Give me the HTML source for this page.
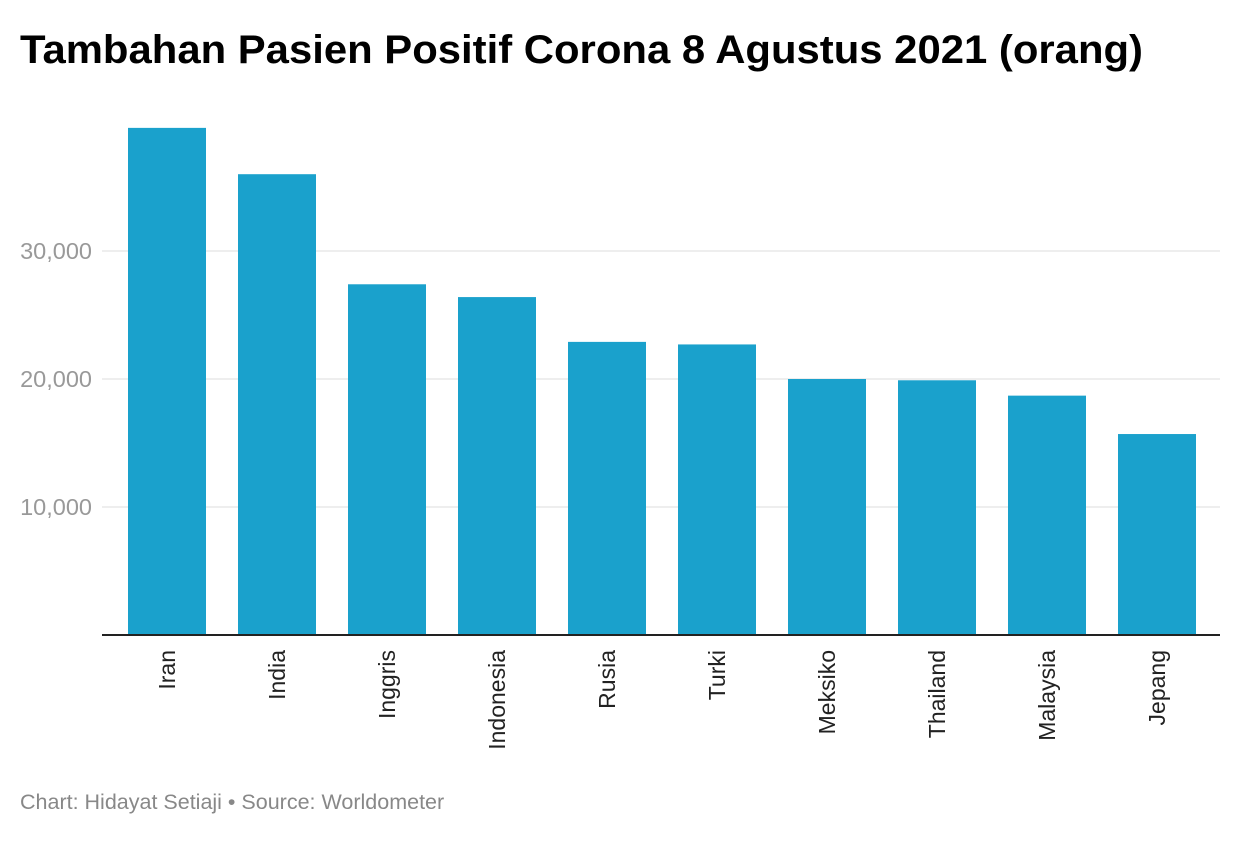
<!DOCTYPE html>
<html><head><meta charset="utf-8"><style>
body{margin:0;background:#fff;width:1240px;height:840px;overflow:hidden;font-family:"Liberation Sans",sans-serif}
</style></head><body>
<svg width="1240" height="840">
<text x="20" y="63" font-size="40" font-weight="bold" fill="#000" textLength="1123" lengthAdjust="spacingAndGlyphs">Tambahan Pasien Positif Corona 8 Agustus 2021 (orang)</text>
<g id="grid"></g><g id="bars"></g><g id="xl"></g>
<line x1="102" x2="1220" y1="635" y2="635" stroke="#222" stroke-width="2"/>
<text x="20" y="809" font-size="21.5" fill="#888">Chart: Hidayat Setiaji • Source: Worldometer</text>
</svg>
<script>
const categories=["Iran","India","Inggris","Indonesia","Rusia","Turki","Meksiko","Thailand","Malaysia","Jepang"];
const values=[39619,36000,27400,26400,22900,22700,20000,19900,18700,15700];
const ticks=[10000,20000,30000];
const tickLabels=["10,000","20,000","30,000"];
const ns="http://www.w3.org/2000/svg";
const y=v=>635-v*128/10000;
const x=i=>128+i*110;
function mk(t,a,p){const e=document.createElementNS(ns,t);for(const k in a)e.setAttribute(k,a[k]);p.appendChild(e);return e;}
const g=document.getElementById('grid');
ticks.forEach((t,i)=>{
const l=mk('line',{x1:102,x2:1220,y1:y(t),y2:y(t),stroke:'#ddd','stroke-width':1},g);


const tx=mk('text',{x:92,y:y(t)+8,'text-anchor':'end','font-size':23.5,fill:'#999'},g);
tx.textContent=tickLabels[i];


});
const b=document.getElementById('bars'),xl=document.getElementById('xl');
categories.forEach((c,i)=>{
const r=mk('rect',{x:x(i),y:y(values[i]),width:78,height:635-y(values[i]),fill:'#1aa1cc'},b);


const cx=x(i)+39+8;
const t=mk('text',{x:cx,y:650,'text-anchor':'end','font-size':23,fill:'#222',transform:`rotate(-90 ${cx} 650)`},xl);
t.textContent=c;


});
</script>
</body></html>
